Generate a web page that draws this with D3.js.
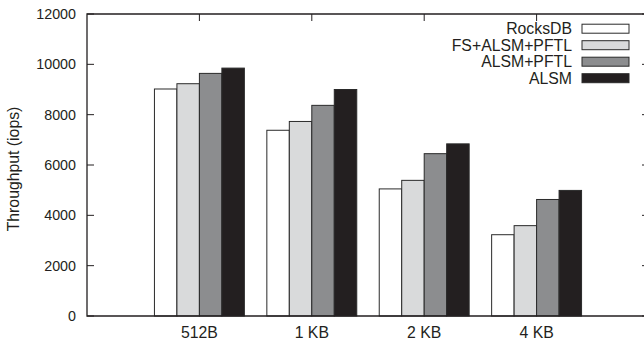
<!DOCTYPE html>
<html><head><meta charset="utf-8">
<script src="https://cdn.jsdelivr.net/npm/d3@7/dist/d3.min.js"></script>
<style>
html,body{margin:0;padding:0;background:#fff;}
svg{display:block;}
text{font-family:"Liberation Sans",Arial,Helvetica,sans-serif;fill:#231f20;}
</style></head>
<body>
<script>
const categories = ["512B", "1 KB", "2 KB", "4 KB"];
const seriesNames = ["RocksDB", "FS+ALSM+PFTL", "ALSM+PFTL", "ALSM"];
const rocksdb = [9020, 7380, 5050, 3230];
const fsAlsmPftl = [9230, 7730, 5390, 3590];
const alsmPftl = [9640, 8370, 6450, 4630];
const alsm = [9850, 9000, 6840, 4990];
const yTicks = [0, 2000, 4000, 6000, 8000, 10000, 12000];
const colors = ["#ffffff", "#d9dadb", "#8c8d8f", "#231f20"];

(function () {
const series = [rocksdb, fsAlsmPftl, alsmPftl, alsm];
const W = 644, H = 344;
const svg = d3.select("body").append("svg").attr("width", W).attr("height", H);

const mLeft = 87, mRight = 649, mTop = 14, mBottom = 316;
const x = d3.scaleLinear().domain([-1, 4]).range([mLeft, mRight]);
const y = d3.scaleLinear().domain([0, 12000]).range([mBottom, mTop]);
const ink = "#231f20";
const tickLen = 7;

const gy = svg.append("g");
yTicks.forEach(t => {
  gy.append("line").attr("x1", mLeft).attr("x2", mLeft + tickLen).attr("y1", y(t)).attr("y2", y(t)).attr("stroke", ink).attr("stroke-width", 1);
  gy.append("line").attr("x1", mRight).attr("x2", mRight - tickLen).attr("y1", y(t)).attr("y2", y(t)).attr("stroke", ink).attr("stroke-width", 1);
  gy.append("text").attr("x", mLeft - 11).attr("y", y(t)).attr("dy", "0.36em")
    .attr("text-anchor", "end").style("font-size", "14.3px").text(d3.format("d")(t));
});

categories.forEach((c, i) => {
  svg.append("line").attr("x1", x(i)).attr("x2", x(i)).attr("y1", mTop).attr("y2", mTop + tickLen).attr("stroke", ink).attr("stroke-width", 1);
  svg.append("text").attr("x", x(i)).attr("y", 338).attr("text-anchor", "middle")
    .style("font-size", "15.8px").text(c);
});

const bw = x(0.2) - x(0);
series.forEach((s, si) => {
  svg.append("g").selectAll("rect").data(s).join("rect")
    .attr("x", (d, i) => x(i - 0.4 + si * 0.2))
    .attr("y", d => y(d))
    .attr("width", bw)
    .attr("height", d => y(0) - y(d))
    .attr("fill", colors[si])
    .attr("stroke", "#2a2a2a")
    .attr("stroke-width", 1);
});

svg.append("path")
  .attr("d", `M${mLeft},${mTop}H${mRight}V${mBottom}H${mLeft}Z`)
  .attr("fill", "none").attr("stroke", ink).attr("stroke-width", 1.3);

svg.append("text")
  .attr("transform", `translate(19,${(mTop + mBottom) / 2 + 4}) rotate(-90)`)
  .attr("text-anchor", "middle").style("font-size", "15.8px").text("Throughput (iops)");

const lg = svg.append("g");
seriesNames.forEach((n, i) => {
  const cy = 28.7 + i * 16.5;
  lg.append("text").attr("x", 572).attr("y", cy).attr("dy", "0.36em")
    .attr("text-anchor", "end").style("font-size", "15.8px").text(n);
  lg.append("rect").attr("x", 582).attr("y", cy - 4.5).attr("width", 47).attr("height", 9)
    .attr("fill", colors[i]).attr("stroke", "#2a2a2a").attr("stroke-width", 1);
});
})();
</script>
</body></html>
